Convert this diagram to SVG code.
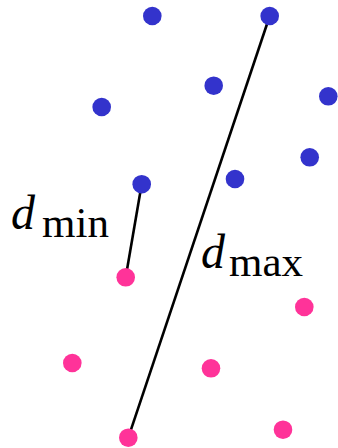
<svg xmlns="http://www.w3.org/2000/svg" width="338" height="448" viewBox="0 0 338 448">
<style>
.b{fill:#3333cc}
.p{fill:#ff3399}
.ln{stroke:#000;stroke-width:2.6;fill:none}
.d{font-family:"Liberation Serif",serif;font-style:italic;font-size:48px;fill:#000}
.s{font-family:"Liberation Serif",serif;font-size:43px;fill:#000}
</style>
<rect width="338" height="448" fill="#fff"/>
<g id="connectors">
<line class="ln" x1="141.7" y1="184" x2="125.7" y2="277.3"/>
<line class="ln" x1="269.7" y1="16" x2="128.3" y2="437.7"/>
</g>
<g id="blue1"><circle class="b" cx="152.3" cy="16" r="9.3"/></g>
<g id="blue2"><circle class="b" cx="269.7" cy="16" r="9.3"/></g>
<g id="blue3"><circle class="b" cx="213.7" cy="85.7" r="9.3"/></g>
<g id="blue4"><circle class="b" cx="101.7" cy="107" r="9.3"/></g>
<g id="blue5"><circle class="b" cx="328.3" cy="96.3" r="9.3"/></g>
<g id="blue6"><circle class="b" cx="309.7" cy="157.3" r="9.3"/></g>
<g id="blue7"><circle class="b" cx="235" cy="179" r="9.3"/></g>
<g id="blue8"><circle class="b" cx="141.7" cy="184.2" r="9.3"/></g>
<g id="pink1"><circle class="p" cx="125.7" cy="277.3" r="9.3"/></g>
<g id="pink2"><circle class="p" cx="304.3" cy="307" r="9.3"/></g>
<g id="pink3"><circle class="p" cx="72.3" cy="363" r="9.3"/></g>
<g id="pink4"><circle class="p" cx="211" cy="368.3" r="9.3"/></g>
<g id="pink5"><circle class="p" cx="283" cy="429.7" r="9.3"/></g>
<g id="pink6"><circle class="p" cx="128.3" cy="437.7" r="9.3"/></g>
<g id="label-dmin"><text class="d" x="11" y="229">d</text><text class="s" x="42" y="237">min</text></g>
<g id="label-dmax"><text class="d" x="201" y="268">d</text><text class="s" x="229" y="276">max</text></g>
</svg>
